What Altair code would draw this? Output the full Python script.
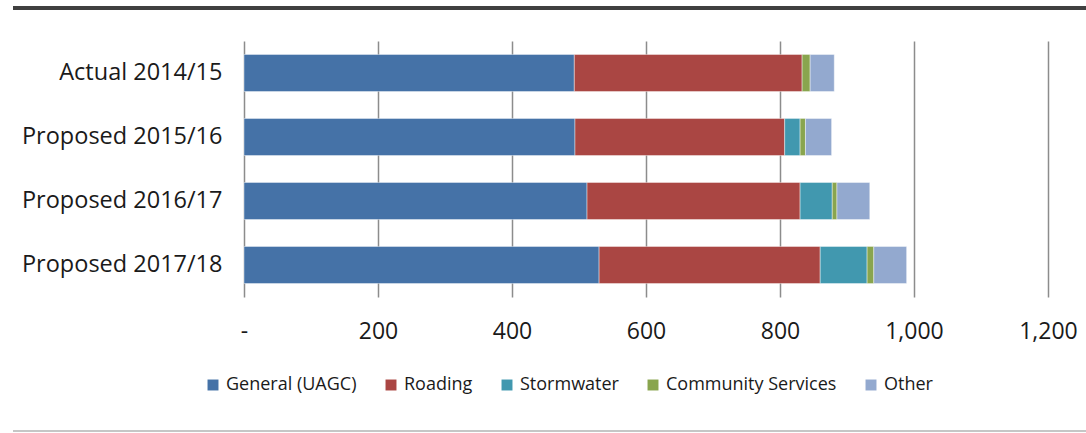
import altair as alt
import pandas as pd

# Rates requirement by year and activity ($000s)
years = ["Actual 2014/15", "Proposed 2015/16", "Proposed 2016/17", "Proposed 2017/18"]
activities = ["General (UAGC)", "Roading", "Stormwater", "Community Services", "Other"]
general = [493, 494, 512, 530]
roading = [340, 313, 318, 330]
stormwater = [0, 23, 48, 70]
community = [12, 8, 7, 10]
other = [36, 39, 49, 49]
colors = ["#4572A7", "#AA4643", "#4198AF", "#89A54E", "#93A9CF"]
x_ticks = [0, 200, 400, 600, 800, 1000, 1200]

series = [general, roading, stormwater, community, other]
rows = []
for k, (name, vals) in enumerate(zip(activities, series)):
    for year, v in zip(years, vals):
        if v > 0:
            rows.append({"year": year, "activity": name, "value": v, "order": k})
df = pd.DataFrame(rows)

FONT = "Open Sans"

bars = alt.Chart(df).mark_bar(stroke="#ffffff", strokeWidth=0.6, strokeOpacity=0.7).encode(
    y=alt.Y(
        "year:N",
        sort=years,
        title=None,
        scale=alt.Scale(paddingInner=0.42, paddingOuter=0.21),
        axis=alt.Axis(
            domain=False, ticks=False, labelFontSize=23.5, labelFont=FONT,
            labelColor="#1a1a1a", labelPadding=22, grid=False, labelLimit=0,
        ),
    ),
    x=alt.X(
        "value:Q",
        stack="zero",
        title=None,
        scale=alt.Scale(domain=[0, 1200], nice=False),
        axis=alt.Axis(
            values=x_ticks, domain=False, ticks=False, grid=True,
            gridColor="#8c8c8c", gridWidth=1.5,
            labelExpr="datum.value == 0 ? '-' : format(datum.value, ',')",
            labelFontSize=23, labelFont=FONT, labelColor="#1a1a1a",
            labelPadding=23, labelFlush=False, labelLimit=0,
        ),
    ),
    color=alt.Color(
        "activity:N",
        scale=alt.Scale(domain=activities, range=colors),
        legend=alt.Legend(
            title=None, orient="none", direction="horizontal",
            legendX=-40, legendY=335, symbolType="square", symbolSize=120,
            symbolStrokeWidth=0, labelFontSize=18, labelFont=FONT,
            labelColor="#1a1a1a", labelOffset=4, columnPadding=25,
            labelLimit=0,
        ),
    ),
    order=alt.Order("order:Q"),
)

frame = pd.DataFrame({"k": [0]})
top_line = alt.Chart(frame).mark_rule(color="#404040", strokeWidth=4).encode(
    x=alt.value(-231), x2=alt.value(842), y=alt.value(-33)
)
bottom_line = alt.Chart(frame).mark_rule(color="#b3b3b3", strokeWidth=1.5).encode(
    x=alt.value(-231), x2=alt.value(842), y=alt.value(390)
)

chart = alt.layer(bars, top_line, bottom_line).properties(
    width=804,
    height=256,
    autosize=alt.AutoSizeParams(type="none"),
    padding={"left": 244, "top": 41, "right": 38, "bottom": 136},
    background="#ffffff",
).configure_view(stroke=None)

chart.save("out.html", embed_options={"renderer": "svg", "actions": False})
